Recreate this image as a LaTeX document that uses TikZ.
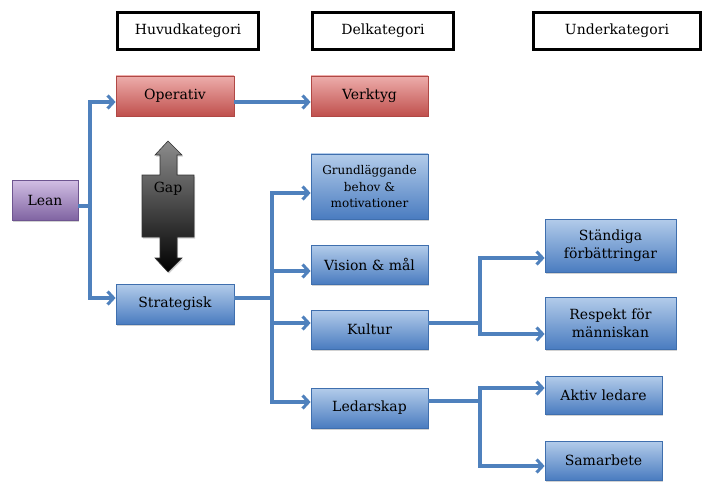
\documentclass[tikz,border=0pt]{standalone}
\usepackage{fontspec}
\setmainfont{DejaVu Serif}
\usetikzlibrary{arrows.meta,shadows,calc}
\definecolor{conn}{HTML}{4F81BD}
\definecolor{bluetop}{HTML}{B3CCEA}
\definecolor{bluebot}{HTML}{4A7CC0}
\definecolor{blueedge}{HTML}{3F6FAE}
\definecolor{redtop}{HTML}{EDADAB}
\definecolor{redbot}{HTML}{C0504D}
\definecolor{rededge}{HTML}{B04845}
\definecolor{purtop}{HTML}{D2BFE4}
\definecolor{purbot}{HTML}{8064A2}
\definecolor{puredge}{HTML}{6E5590}
\tikzset{
  base/.style={inner sep=1pt, align=center, font=\fontsize{14}{17}\selectfont,
    drop shadow={shadow xshift=1pt, shadow yshift=-1.5pt, opacity=0.35}},
  bluebox/.style={base, draw=blueedge, line width=0.8pt, top color=bluetop, bottom color=bluebot},
  redbox/.style={base, draw=rededge, line width=0.8pt, top color=redtop, bottom color=redbot},
  purbox/.style={base, draw=puredge, line width=0.8pt, top color=purtop, bottom color=purbot},
  headbox/.style={draw=black, line width=3.4pt, fill=white, inner sep=1pt, font=\fontsize{14}{17}\selectfont},
  arr/.style={draw=conn, line width=3.4pt, -{Straight Barb[length=6pt,width=13pt,line width=3pt]}},
  ln/.style={draw=conn, line width=3.4pt},
}
\begin{document}
\begin{tikzpicture}[x=1pt,y=-1pt]
\useasboundingbox[fill=white] (0,0) rectangle (712,492);
% headers
\node[headbox, minimum width=141pt, minimum height=37pt] (hk) at (188,31) {Huvudkategori};
\node[headbox, minimum width=141pt, minimum height=37pt] (dk) at (383,31) {Delkategori};
\node[headbox, minimum width=167pt, minimum height=37pt] (uk) at (617,31) {Underkategori};
% main boxes
\node[purbox, minimum width=66pt, minimum height=40pt] (lean) at (45,200) {Lean};
\node[redbox, minimum width=118pt, minimum height=40pt] (op) at (175,96) {Operativ};
\node[redbox, minimum width=117pt, minimum height=40pt] (ve) at (369.5,96) {Verktyg};
\node[bluebox, minimum width=118pt, minimum height=40pt] (st) at (175,304) {Strategisk};
\node[bluebox, minimum width=117pt, minimum height=65pt, font=\fontsize{12}{16.5}\selectfont] (gr) at (369.5,186.5) {Grundläggande\\behov \&\\motivationer};
\node[bluebox, minimum width=117pt, minimum height=39pt] (vi) at (369.5,264.5) {Vision \& mål};
\node[bluebox, minimum width=117pt, minimum height=39pt] (ku) at (369.5,329.5) {Kultur};
\node[bluebox, minimum width=117pt, minimum height=40pt] (le) at (369.5,408) {Ledarskap};
\node[bluebox, minimum width=131pt, minimum height=53pt, font=\fontsize{14}{18}\selectfont] (sf) at (610.5,245.5) {Ständiga\\förbättringar};
\node[bluebox, minimum width=131pt, minimum height=52pt, font=\fontsize{14}{18}\selectfont] (re) at (610.5,323) {Respekt för\\människan};
\node[bluebox, minimum width=117pt, minimum height=38pt] (ak) at (603.5,395) {Aktiv ledare};
\node[bluebox, minimum width=117pt, minimum height=39pt] (sa) at (603.5,460.5) {Samarbete};
% gap arrow
\path[draw=black!80, line width=0.6pt, top color=black!45, bottom color=black,
  drop shadow={shadow xshift=1pt, shadow yshift=-1.5pt, opacity=0.35}]
  (168,141) -- (182,155) -- (177,155) -- (177,175) -- (194,175) -- (194,237)
  -- (177,237) -- (177,258) -- (182,258) -- (168,272) -- (155,258) -- (160,258)
  -- (160,237) -- (142,237) -- (142,175) -- (160,175) -- (160,155) -- (155,155) -- cycle;
\node[font=\fontsize{14}{17}\selectfont, inner sep=0pt] (gap) at (168,189) {Gap};
% connectors
\coordinate (j1) at (90,206);
\coordinate (j2) at (272,298);
\coordinate (j3) at (480,323);
\coordinate (j4) at (480,401);
\draw[ln] ([yshift=-6pt]lean.east) -- (j1);
\draw[arr] (j1) |- ([yshift=-6pt]op.west);
\draw[arr] (j1) |- ([yshift=6pt]st.west);
\draw[arr] ([yshift=-6pt]op.east) -- ([yshift=-6pt]ve.west);
\draw[ln] ([yshift=6pt]st.east) -- (j2);
\draw[arr] (j2) |- ([yshift=-6.5pt]gr.west);
\draw[arr] (j2) |- ([yshift=-6.5pt]vi.west);
\draw[arr] (j2) |- ([yshift=6.5pt]ku.west);
\draw[arr] (j2) |- ([yshift=6pt]le.west);
\draw[ln] ([yshift=6.5pt]ku.east) -- (j3);
\draw[arr] (j3) |- ([yshift=-12.5pt]sf.west);
\draw[arr] (j3) |- ([yshift=-11pt]re.west);
\draw[ln] ([yshift=7pt]le.east) -- (j4);
\draw[arr] (j4) |- ([yshift=7pt]ak.west);
\draw[arr] (j4) |- ([yshift=-5.5pt]sa.west);
\end{tikzpicture}
\end{document}
